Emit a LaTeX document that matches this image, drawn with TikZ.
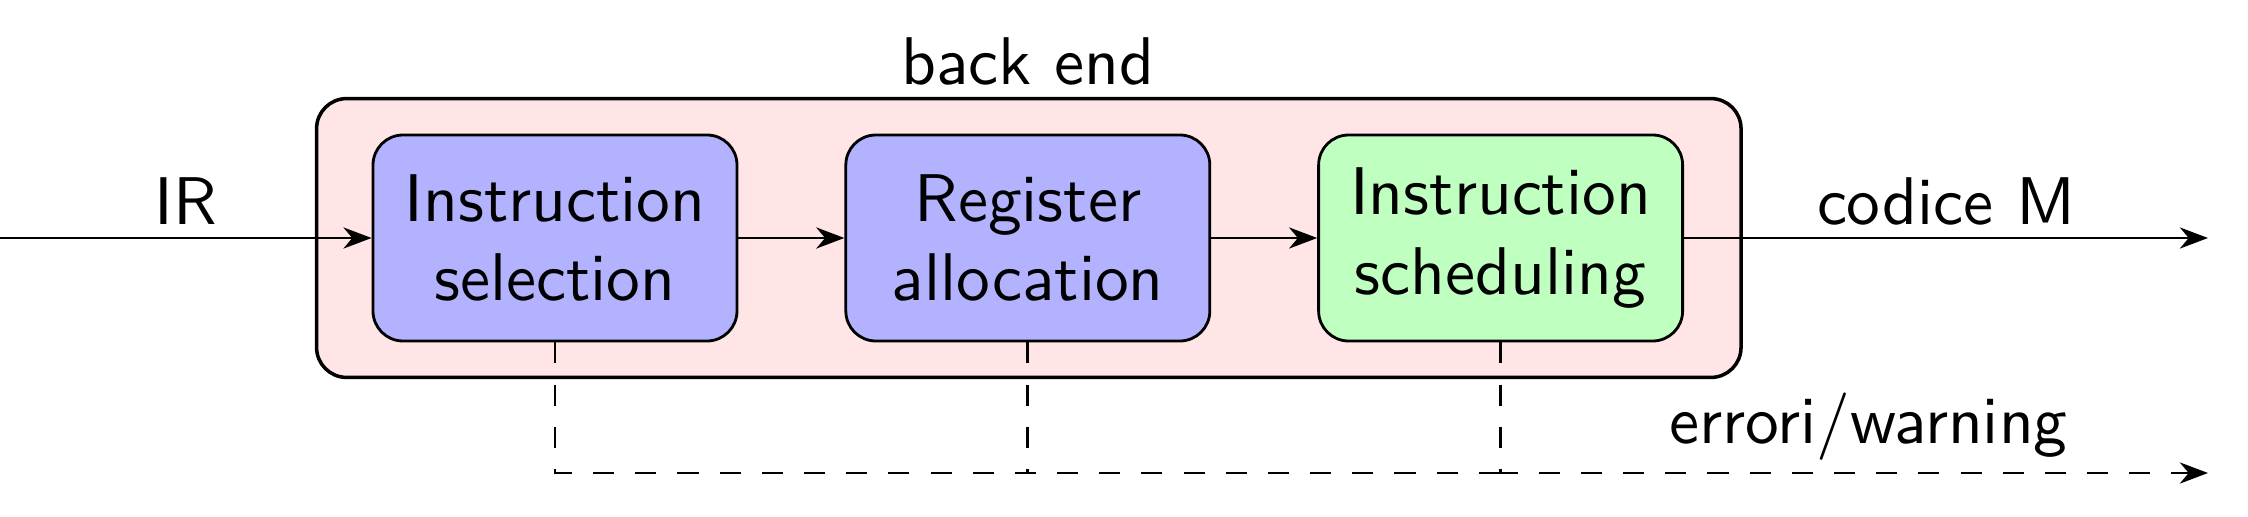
\documentclass[tikz,border=0pt]{standalone}
\usepackage{fontspec}
\setsansfont{lmsans10-regular.otf}
\usepackage{tikz}
\usetikzlibrary{backgrounds}
\usetikzlibrary{positioning}
\usetikzlibrary{%
  calc,%
  arrows.meta%
}

\begin{document}
\begin{tikzpicture}[font=\sffamily\fontsize{19.2}{22.5}\selectfont, line width=0.8pt,
  >={Stealth[length=8pt,width=6pt,inset=2.5pt]}, node distance=1.06cm,
  phase/.style={draw, rounded corners=0.3cm, minimum width=3.64cm, minimum height=2.06cm, align=center},
  errline/.style={dash pattern=on 6pt off 6pt}]
\useasboundingbox (0,0) rectangle (22.48,5.16);
\coordinate (in) at (0,2.78);
\coordinate (out) at (22.08,2.78);
\coordinate (err) at (22.08,0.43);

\node[phase, fill=blue!30] (sel) at (5.55,2.78) {Instruction\\selection};
\node[phase, fill=blue!30, right=of sel] (alloc) {Register\\allocation};
\node[phase, fill=green!25, right=of alloc] (sched) {Instruction\\scheduling};

\begin{scope}[on background layer]
\draw[fill=red!10, line width=1pt, rounded corners=0.3cm] ($(sel.north west)+(-0.55,0.35)$) rectangle ($(sched.south east)+(0.57,-0.35)$);
\end{scope}
\node[above] (backend) at ($(alloc.north)+(0,0.35)$) {back end};

\draw[->] (in) -- node[above] (ir) {IR} (sel);
\draw[->] (sel) -- (alloc);
\draw[->] (alloc) -- (sched);
\draw[->] (sched) -- node[above] (codice) {codice M} (out);

\draw[errline] (sel.south) |- (sched.south |- err);
\draw[errline] (alloc.south) -- (alloc.south |- err);
\draw[errline,->] (sched.south) |- node[above, pos=0.76] (warn) {errori/warning} (err);
\end{tikzpicture}
\end{document}
